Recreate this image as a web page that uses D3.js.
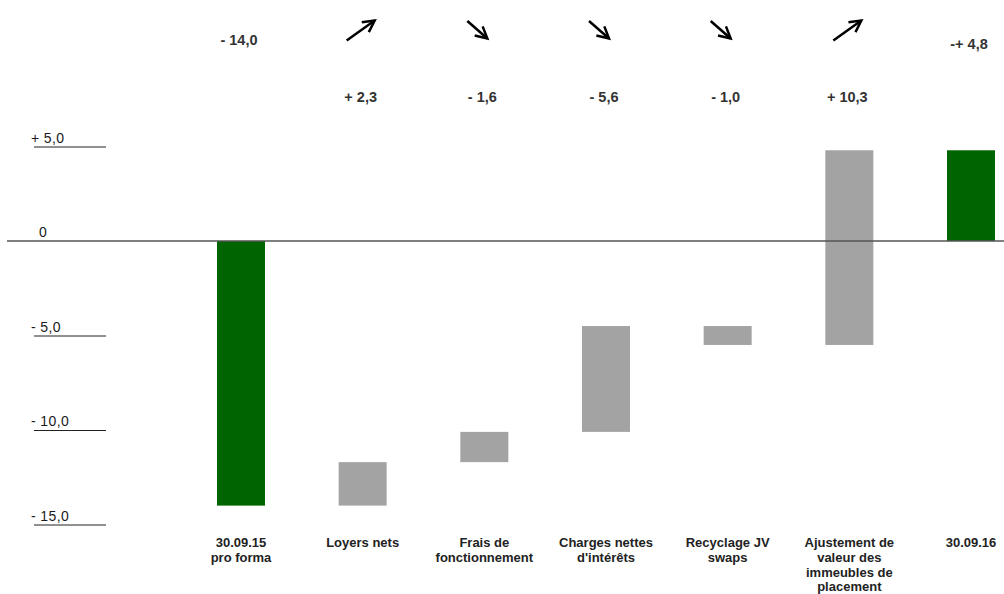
<!DOCTYPE html>
<html>
<head>
<meta charset="utf-8">
<script src="https://cdn.jsdelivr.net/npm/d3@7"></script>
<style>
  html, body { margin: 0; padding: 0; background: #ffffff; }
  svg { display: block; }
</style>
</head>
<body>
<svg id="chart" width="1004" height="594"></svg>
<script>
// Bridge of the result from 30.09.15 (pro forma) to 30.09.16
const categories = [
  "30.09.15\npro forma",
  "Loyers nets",
  "Frais de\nfonctionnement",
  "Charges nettes\nd'intérêts",
  "Recyclage JV\nswaps",
  "Ajustement de\nvaleur des\nimmeubles de\nplacement",
  "30.09.16"
];
const startValue = -14.0;
// effect of each item on the result (bar steps)
const steps = [2.3, 1.6, 5.6, -1.0, 10.3];
// change reported for each item (labels and arrows)
const changes = [2.3, -1.6, -5.6, -1.0, 10.3];
const totalLabels = ["- 14,0", "-+ 4,8"];
const tickValues = [5, 0, -5, -10, -15];
const tickLabels = ["+ 5,0", "0", "- 5,0", "- 10,0", "- 15,0"];

const GREEN = "#006400";
const GREY = "#a3a3a3";
const W = 1004, H = 594;
const svg = d3.select("#chart");

// scales
const zeroY = 241, pxPerUnit = 18.9;
const y = d3.scaleLinear()
  .domain([-15, 5])
  .range([zeroY + 15 * pxPerUnit, zeroY - 5 * pxPerUnit]);
const x = d3.scalePoint().domain(categories).range([241, 971]);
const barW = 48;

// build waterfall segments
const bars = [];
let running = startValue;
bars.push({ cat: categories[0], y0: 0, y1: startValue, total: true });
steps.forEach((s, i) => {
  bars.push({ cat: categories[i + 1], y0: running, y1: running + s, total: false });
  running += s;
});
bars.push({ cat: categories[6], y0: 0, y1: running, total: true });

// y-axis tick labels with short underlines
const ticks = svg.append("g").attr("class", "y-ticks");
tickValues.forEach((v, i) => {
  ticks.append("text")
    .attr("x", v === 0 ? 39 : 31)
    .attr("y", y(v) - 4)
    .attr("font-family", "'Liberation Sans', Arial, sans-serif")
    .attr("font-size", 14)
    .attr("letter-spacing", v === 0 ? 0 : 0.4)
    .attr("fill", "#1a1a1a")
    .text(tickLabels[i]);
  if (v !== 0) {
    ticks.append("line")
      .attr("x1", 34).attr("x2", 106)
      .attr("y1", y(v) + 0.5).attr("y2", y(v) + 0.5)
      .attr("stroke", "#222").attr("stroke-width", 1);
  }
});

// bars
svg.append("g").attr("class", "bars")
  .selectAll("rect")
  .data(bars)
  .join("rect")
  .attr("x", d => x(d.cat) - barW / 2)
  .attr("width", barW)
  .attr("y", d => y(Math.max(d.y0, d.y1)))
  .attr("height", d => Math.abs(y(d.y0) - y(d.y1)))
  .attr("fill", d => d.total ? GREEN : GREY);

// zero line across the chart
svg.append("line")
  .attr("x1", 7).attr("x2", W)
  .attr("y1", y(0)).attr("y2", y(0))
  .attr("stroke", "#555").attr("stroke-width", 1.6);

const boldFont = "'Liberation Sans', Arial, sans-serif";

// total value labels
[0, 6].forEach((ci, k) => {
  svg.append("text")
    .attr("x", x(categories[ci]) - 2)
    .attr("y", k === 0 ? 45 : 49)
    .attr("text-anchor", "middle")
    .attr("font-family", boldFont)
    .attr("font-weight", "bold")
    .attr("font-size", 14.5)
    .attr("fill", "#333")
    .text(totalLabels[k]);
});

// change labels
const fmt = v => (v >= 0 ? "+ " : "- ") + d3.format(".1f")(Math.abs(v)).replace(".", ",");
changes.forEach((c, i) => {
  svg.append("text")
    .attr("x", x(categories[i + 1]) - 2)
    .attr("y", 102)
    .attr("text-anchor", "middle")
    .attr("font-family", boldFont)
    .attr("font-weight", "bold")
    .attr("font-size", 14.5)
    .attr("fill", "#333")
    .text(fmt(c));
});

// trend arrows
const arrows = svg.append("g").attr("class", "arrows")
  .attr("stroke", "#000").attr("stroke-width", 2.5)
  .attr("fill", "none").attr("stroke-linecap", "butt");
changes.forEach((c, i) => {
  const cx = x(categories[i + 1]);
  const p0 = c >= 0 ? [cx - 16, 40.5] : [cx - 17, 21];
  const p1 = c >= 0 ? [cx + 12, 20.5] : [cx + 3, 38.5];
  const ang = Math.atan2(p1[1] - p0[1], p1[0] - p0[0]);
  const hl = 13, spread = Math.PI / 6.5;
  const w1 = [p1[0] - hl * Math.cos(ang - spread), p1[1] - hl * Math.sin(ang - spread)];
  const w2 = [p1[0] - hl * Math.cos(ang + spread), p1[1] - hl * Math.sin(ang + spread)];
  arrows.append("line")
    .attr("x1", p0[0]).attr("y1", p0[1])
    .attr("x2", p1[0]).attr("y2", p1[1]);
  arrows.append("path")
    .attr("stroke-linejoin", "miter")
    .attr("d", d3.line()([w1, p1, w2]));
});

// category labels
const catG = svg.append("g").attr("class", "categories");
categories.forEach(cat => {
  const t = catG.append("text")
    .attr("x", x(cat))
    .attr("y", 547)
    .attr("text-anchor", "middle")
    .attr("font-family", boldFont)
    .attr("font-weight", "bold")
    .attr("font-size", 13)
    .attr("fill", "#222");
  cat.split("\n").forEach((line, j) => {
    t.append("tspan")
      .attr("x", x(cat))
      .attr("dy", j === 0 ? 0 : 14.8)
      .text(line);
  });
});
</script>
</body>
</html>
